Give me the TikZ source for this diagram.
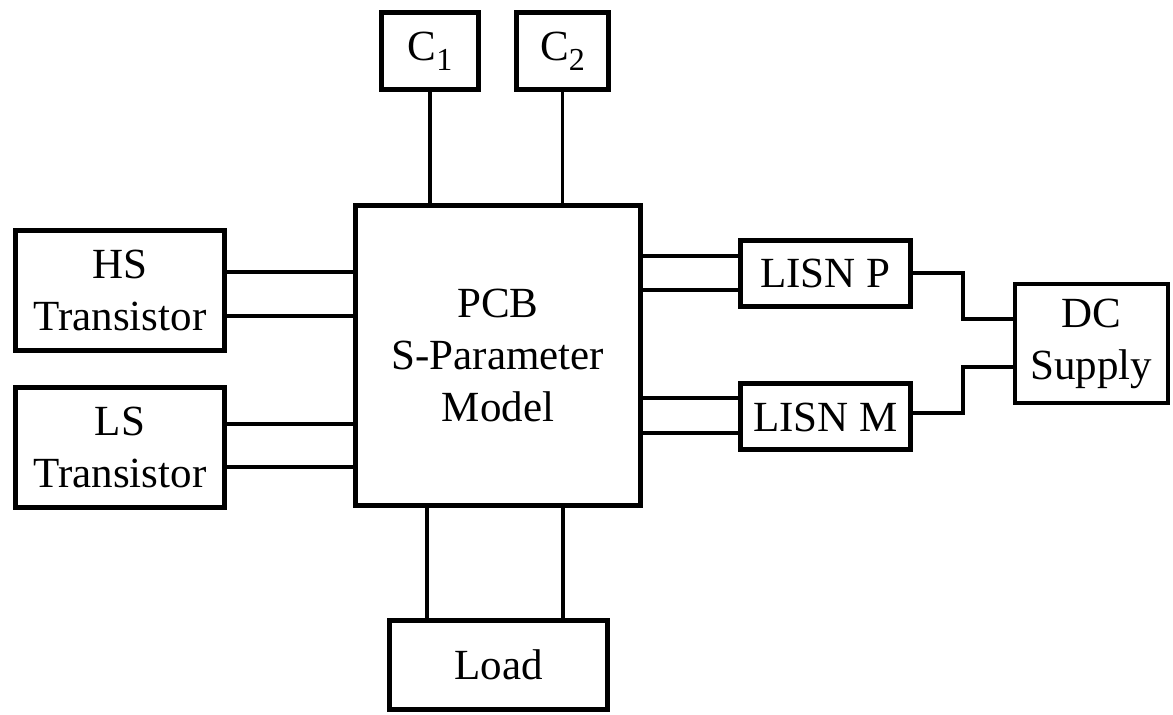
\documentclass[tikz,border=0pt]{standalone}
\usepackage{fontspec}
\setmainfont{Liberation Serif}
\usetikzlibrary{positioning}

\newcommand{\capsub}[1]{\raisebox{-5pt}{\fontsize{16}{16}\selectfont #1}}

\tikzset{
  block/.style={draw, line width=2.5pt, align=center, inner sep=0pt,
    font=\fontsize{21.5}{26}\selectfont},
  wire/.style={line width=1.6pt}
}

\begin{document}
\begin{tikzpicture}[x=0.5pt, y=-0.5pt]
  \useasboundingbox (0,0) rectangle (1173,715);

  % main model
  \node[block, minimum width=142.5pt, minimum height=150pt] (pcb) at (498,355.5) {PCB\\S-Parameter\\Model};

  % capacitors
  \node[block, minimum width=48.5pt, minimum height=38.5pt] (c1) at (430,51) {C\capsub{1}};
  \node[block, minimum width=46pt, minimum height=38.5pt] (c2) at (562.5,51) {C\capsub{2}};

  % transistors
  \node[block, minimum width=104.5pt, minimum height=60pt] (hs) at (120,290.5) {HS\\Transistor};
  \node[block, minimum width=104.5pt, minimum height=60pt] (ls) at (120,447.5) {LS\\Transistor};

  % LISNs and supply
  \node[block, minimum width=85pt, minimum height=33pt] (lisnp) at (825.5,273.5) {LISN P};
  \node[block, minimum width=85pt, minimum height=33pt] (lisnm) at (825.5,417) {LISN M};
  \node[block, line width=2pt, minimum width=76.5pt, minimum height=59.5pt] (dc) at (1091.5,343.5) {DC\\Supply};

  % load
  \node[block, minimum width=109pt, minimum height=44.5pt] (load) at (498.5,665) {Load};

  % top and bottom wires
  \draw[wire] (c1.south) -- (c1.south |- pcb.north);
  \draw[wire] (c2.south) -- (c2.south |- pcb.north);
  \foreach \x in {427,563}
    \draw[wire] (pcb.south -| \x,0) -- (load.north -| \x,0);

  % transistor wires
  \foreach \y in {272,316}
    \draw[wire] (hs.east |- 0,\y) -- (pcb.west |- 0,\y);
  \foreach \y in {424,467}
    \draw[wire] (ls.east |- 0,\y) -- (pcb.west |- 0,\y);

  % LISN wires
  \foreach \y in {256,290}
    \draw[wire] (pcb.east |- 0,\y) -- (lisnp.west |- 0,\y);
  \foreach \y in {398,433}
    \draw[wire] (pcb.east |- 0,\y) -- (lisnm.west |- 0,\y);

  % supply wires
  \draw[wire] (lisnp.east |- 0,273) -| (963,319) -- (dc.west |- 0,319);
  \draw[wire] (lisnm.east |- 0,413) -| (963,367) -- (dc.west |- 0,367);
\end{tikzpicture}
\end{document}
